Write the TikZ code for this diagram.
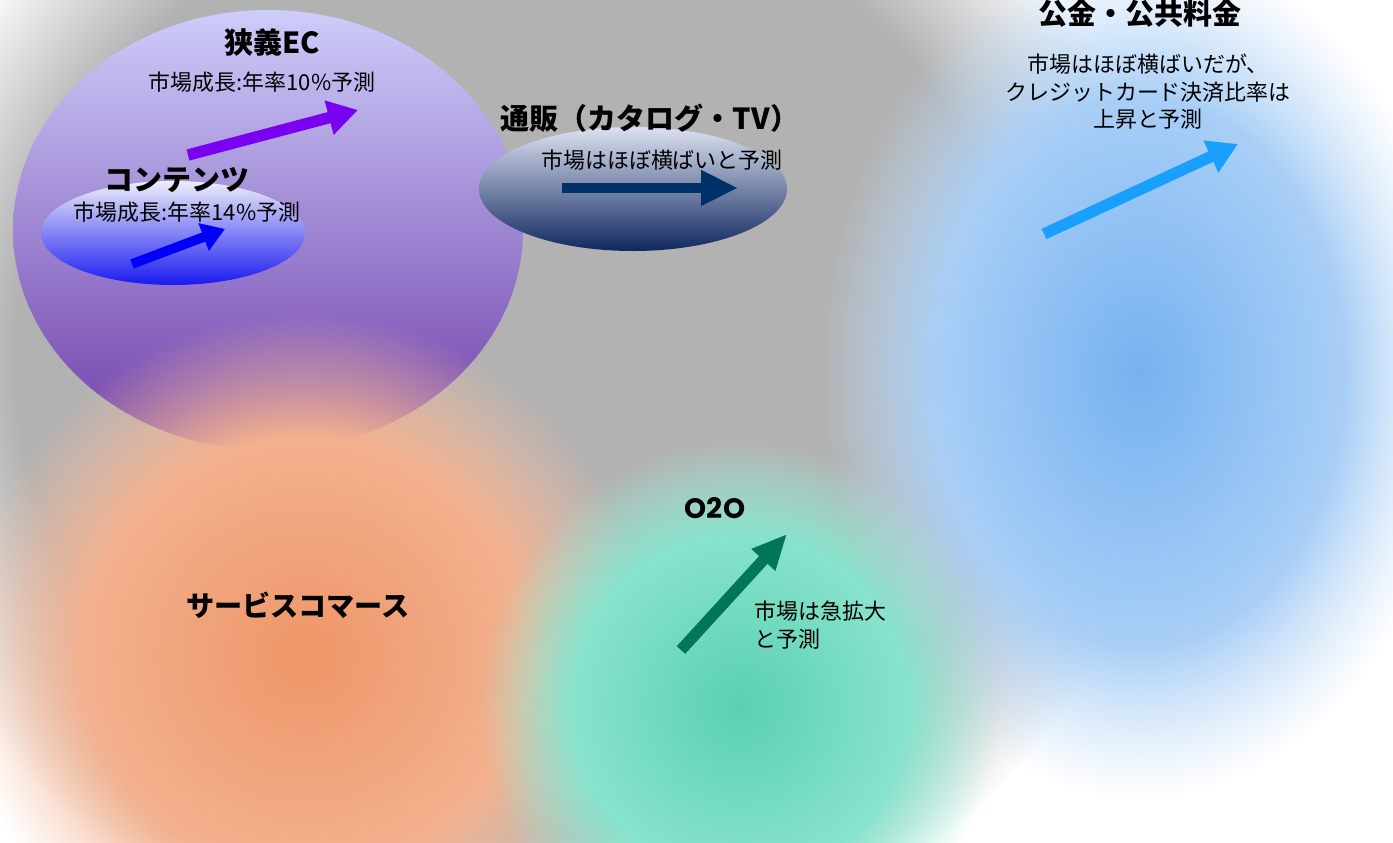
\documentclass[tikz,border=0pt]{standalone}
\usepackage{fontspec}
\setmainfont{Noto Sans CJK JP}
\newfontfamily\geofont{Poppins}
\usetikzlibrary{arrows.meta,fadings}

% soft edges for the blurred areas
\pgfdeclareradialshading{softshade}{\pgfpointorigin}{color(0bp)=(pgftransparent!0); color(16bp)=(pgftransparent!0); color(25bp)=(pgftransparent!100); color(50bp)=(pgftransparent!100)}
\pgfdeclarefading{softedge}{\pgfuseshading{softshade}}
\pgfdeclareradialshading{flatshade}{\pgfpointorigin}{color(0bp)=(pgftransparent!0); color(19bp)=(pgftransparent!0); color(25bp)=(pgftransparent!100); color(50bp)=(pgftransparent!100)}
\pgfdeclarefading{flatedge}{\pgfuseshading{flatshade}}

\definecolor{bggray}{RGB}{178,178,178}
\definecolor{ectop}{RGB}{205,205,250}
\definecolor{ecmid}{RGB}{172,162,228}
\definecolor{ecbot}{RGB}{112,62,170}
\definecolor{cttop}{RGB}{237,237,250}
\definecolor{ctmid}{RGB}{165,172,248}
\definecolor{ctbot}{RGB}{26,26,240}
\definecolor{tvtop}{RGB}{220,225,240}
\definecolor{tvmid}{RGB}{140,150,180}
\definecolor{tvbot}{RGB}{16,40,96}
\definecolor{pubin}{RGB}{118,178,240}
\definecolor{pubout}{RGB}{196,222,250}
\definecolor{svin}{RGB}{238,150,104}
\definecolor{svout}{RGB}{246,192,164}
\definecolor{ooin}{RGB}{90,208,176}
\definecolor{ooout}{RGB}{160,238,220}
\definecolor{arrpurple}{RGB}{122,0,240}
\definecolor{arrblue}{RGB}{0,0,250}
\definecolor{arrnavy}{RGB}{0,50,105}
\definecolor{arrsky}{RGB}{25,160,255}
\definecolor{arrgreen}{RGB}{0,118,88}

\begin{document}
\begin{tikzpicture}[x=0.02cm, y=-0.02cm,
    title/.style={font=\bfseries\fontsize{16.5}{20}\selectfont},
    note/.style={font=\fontsize{12.5}{15.6}\selectfont, align=center},
    trend/.style={line width=6.5pt, -{Triangle[length=17pt,width=19pt]}}]
    \useasboundingbox (0,0) rectangle (1393,842);
    \fill[white] (0,0) rectangle (1393,842);
    % blurred areas
    \fill[bggray, path fading=flatedge] (520,360) ellipse [x radius=660, y radius=620];
    \shade[inner color=pubin, outer color=pubout, path fading=softedge] (1140,372) ellipse [x radius=318, y radius=425];
    % sharp ellipses
    \shade[top color=ectop, middle color=ecmid, bottom color=ecbot] (268,230) ellipse [x radius=255, y radius=220];
    \shade[top color=cttop, middle color=ctmid, bottom color=ctbot] (173,233) ellipse [x radius=132, y radius=52];
    \shade[inner color=svin, outer color=svout, path fading=softedge] (305,655) ellipse [x radius=345, y radius=340];
    \shade[inner color=ooin, outer color=ooout, path fading=softedge] (740,705) ellipse [x radius=260, y radius=265];
    \shade[top color=tvtop, middle color=tvmid, bottom color=tvbot] (633,189) ellipse [x radius=154, y radius=62];
    % trends
    \draw[trend, arrpurple] (188,155) -- (358,110);
    \draw[trend, arrblue, line width=5.5pt, -{Triangle[length=13pt,width=16pt]}] (132,264) -- (225,229);
    \draw[trend, arrnavy, line width=5.5pt, -{Triangle[length=21pt,width=19pt]}] (562,188) -- (738,188);
    \draw[trend, arrsky] (1044,234) -- (1238,144);
    \draw[trend, arrgreen, -{Triangle[length=20pt,width=17pt]}] (681,650) -- (787,534);
    % labels
    \node[title] (ec) at (272,43) {狭義EC};
    \node[note] (ecnote) at (262,82) {市場成長:年率10\%予測};
    \node[title] (ct) at (177,180) {コンテンツ};
    \node[note] (ctnote) at (187,212) {市場成長:年率14\%予測};
    \node[title] (tv) at (650,118) {通販（カタログ・TV）};
    \node[note] (tvnote) at (662,160) {市場はほぼ横ばいと予測};
    \node[title] (pub) at (1140,13) {公金・公共料金};
    \node[note] (pubnote) at (1148,92) {市場はほぼ横ばいだが、\\クレジットカード決済比率は\\上昇と予測};
    \node[title, font=\geofont\bfseries\fontsize{16}{20}\selectfont] (oo) at (715,508) {O2O};
    \node[note, align=left, anchor=north west] (oonote) at (748,595) {市場は急拡大\\と予測};
    \node[title, font=\bfseries\fontsize{16}{20}\selectfont] (sv) at (298,605) {サービスコマース};
\end{tikzpicture}
\end{document}
